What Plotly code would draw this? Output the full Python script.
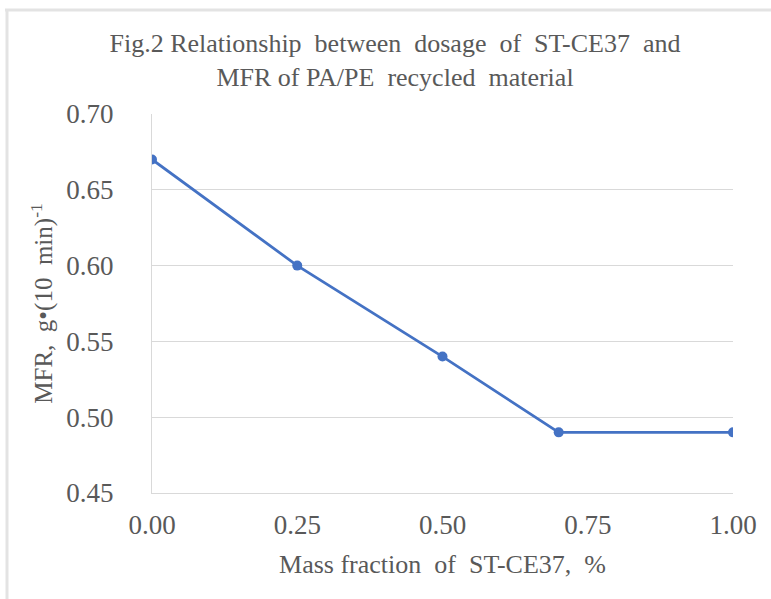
import plotly.graph_objects as go

mass_fraction = [0.0, 0.25, 0.5, 0.7, 1.0]
mfr = [0.67, 0.60, 0.54, 0.49, 0.49]
x_ticks = [0.0, 0.25, 0.5, 0.75, 1.0]
x_tick_labels = ["0.00", "0.25", "0.50", "0.75", "1.00"]
y_ticks = [0.45, 0.50, 0.55, 0.60, 0.65, 0.70]
y_tick_labels = ["0.45", "0.50", "0.55", "0.60", "0.65", "0.70"]

FONT = "Liberation Serif"
GRAY = "#595959"
SP = "\u2002"

fig = go.Figure()
fig.add_trace(go.Scatter(
    x=mass_fraction, y=mfr, mode="lines+markers",
    line=dict(color="#4472C4", width=2.75),
    marker=dict(color="#4472C4", size=10),
    showlegend=False,
))

W, H = 771, 599
L, R, T, B = 152, 38, 114, 106
pw, ph = W - L - R, H - T - B

def px(x):
    return (x - L) / pw

def py(y):
    return (H - B - y) / ph

title_text = ("Fig.2 Relationship" + SP + "between" + SP + "dosage" + SP + "of" + SP + "ST-CE37" + SP + "and"
              + "<br>MFR of PA/PE" + SP + "recycled" + SP + "material")

fig.update_layout(
    width=W, height=H,
    margin=dict(l=L, r=R, t=T, b=B, autoexpand=False),
    paper_bgcolor="white", plot_bgcolor="white",
    font=dict(family=FONT, color=GRAY),
    title=dict(
        text=title_text,
        x=395 / W, xanchor="center", xref="container",
        y=1 - 52 / H, yanchor="middle", yref="container",
        font=dict(family=FONT, size=26, color=GRAY),
    ),
    xaxis=dict(
        range=[0, 1], tickvals=x_ticks, ticktext=x_tick_labels,
        showgrid=False, zeroline=False,
        showline=True, linecolor="#D9D9D9", linewidth=1,
        tickfont=dict(family=FONT, size=27, color=GRAY),
        ticks="", ticklabelstandoff=8,
        title=dict(text="Mass fraction" + SP + "of" + SP + "ST-CE37," + SP + "%",
                   font=dict(family=FONT, size=26, color=GRAY), standoff=15),
    ),
    yaxis=dict(
        range=[0.45, 0.70], tickvals=y_ticks, ticktext=y_tick_labels,
        showgrid=True, gridcolor="#D9D9D9", gridwidth=1, zeroline=False,
        showline=True, linecolor="#D9D9D9", linewidth=1,
        tickfont=dict(family=FONT, size=27, color=GRAY),
        ticks="", ticklabelstandoff=32,
        title=dict(text="MFR," + SP + "g•(10" + SP + "min)<sup>-1</sup>",
                   font=dict(family=FONT, size=25, color=GRAY), standoff=6),
    ),
    shapes=[
        dict(type="line", xref="paper", yref="paper", x0=px(5), x1=px(W), y0=py(10), y1=py(10),
             line=dict(color="#E3E3E3", width=3)),
        dict(type="line", xref="paper", yref="paper", x0=px(7), x1=px(7), y0=py(10), y1=py(H),
             line=dict(color="#E3E3E3", width=3)),
    ],
)

fig.write_html("out.html", config={"displayModeBar": False},
               post_script="document.body.style.margin='0';")
